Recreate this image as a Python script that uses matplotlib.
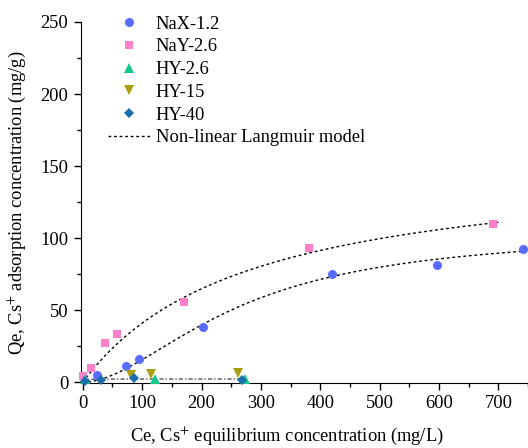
import numpy as np
import matplotlib
matplotlib.use('Agg')
import matplotlib.pyplot as plt

plt.rcParams['font.family'] = ['Liberation Serif', 'DejaVu Serif']
plt.rcParams['mathtext.fontset'] = 'stix'

# measured points (Ce in mg/L, Qe in mg/g)
nax_ce = [24, 72, 95, 202, 419, 596, 741]
nax_qe = [5.2, 11, 16.2, 38.6, 75.3, 81.5, 92.4]
nay_ce = [1, 13.5, 38, 58, 170, 381, 691]
nay_qe = [4.3, 10.2, 27, 33.5, 55.5, 93.5, 110]
hy26_ce = [4, 121, 273]
hy26_qe = [2.2, 2.6, 2.4]
hy15_ce = [82, 115, 261]
hy15_qe = [5.3, 5.5, 6.5]
hy40_ce = [4.5, 30, 86, 268]
hy40_qe = [1.2, 1.8, 3.0, 1.9]

labels = ['NaX-1.2', 'NaY-2.6', 'HY-2.6', 'HY-15', 'HY-40']
colors = ['#5a6bff', '#ff80c8', '#14c88c', '#a8a010', '#1a6eae']
markers = ['o', 's', '^', 'v', 'D']
sizes = [6.5, 6, 7.5, 7.5, 5.5]

# model fit parameters: qm, K, n, Ce range
fits = [(105, 0.0038, 1.8, 0, 750), (155, 0.0036, 1.0, 0, 700)]
hy_fit = (2.3, 0.6, 1.0, 0, 272)

fig = plt.figure(figsize=(5.28, 4.48), dpi=100)
ax = fig.add_axes([0.1534, 0.1451, 0.8466, 0.8058])

for qm, k, n, c0, c1 in fits:
    c = np.linspace(c0, c1, 300)
    q = qm * (k * c) ** n / (1 + (k * c) ** n)
    ax.plot(c, q, color='black', lw=1.0, ls=(0, (2, 2)), zorder=2)
qm, k, n, c0, c1 = hy_fit
c = np.linspace(c0, c1, 300)
q = qm * (k * c) ** n / (1 + (k * c) ** n)
ax.plot(c, q, color='#555555', lw=1.0, ls=(0, (3, 1.5, 1, 1.5)), zorder=2)

data = [(nax_ce, nax_qe), (nay_ce, nay_qe), (hy26_ce, hy26_qe),
        (hy15_ce, hy15_qe), (hy40_ce, hy40_qe)]
handles = []
for (x, y), lab, col, mk, ms in zip(data, labels, colors, markers, sizes):
    h, = ax.plot(x, y, ls='none', marker=mk, ms=ms, color=col,
                 markeredgewidth=0, label=lab, zorder=3, clip_on=False)
    handles.append(h)
lh, = ax.plot([], [], color='black', lw=1.0, ls=(0, (2, 2)),
              label='Non-linear Langmuir model')
handles.append(lh)

ax.set_xlim(-3, 750)
ax.set_ylim(-0.5, 250)
ax.set_xticks(range(0, 701, 100))
ax.set_xticks(range(50, 751, 100), minor=True)
ax.set_yticks(range(0, 251, 50))
ax.set_yticks(range(25, 251, 50), minor=True)
ax.tick_params(direction='out', labelsize=13.3, length=5, width=1, pad=4)
ax.tick_params(which='minor', direction='out', length=3, width=1)
ax.spines['top'].set_visible(False)
ax.spines['right'].set_visible(False)

ax.set_xlabel('Ce, Cs$^{+}$ equilibrium concentration (mg/L)', fontsize=13.3)
ax.xaxis.set_label_coords(0.461, -0.118)
ax.set_ylabel('Qe, Cs$^{+}$ adsorption concentration (mg/g)', fontsize=13.3, labelpad=9)

ax.legend(handles=handles, loc='upper left', bbox_to_anchor=(0.044, 1.038),
          frameon=False, fontsize=13.3, handlelength=2.27, handletextpad=0.3,
          labelspacing=0.31, borderaxespad=0)

fig.savefig('out.png', dpi=100)
